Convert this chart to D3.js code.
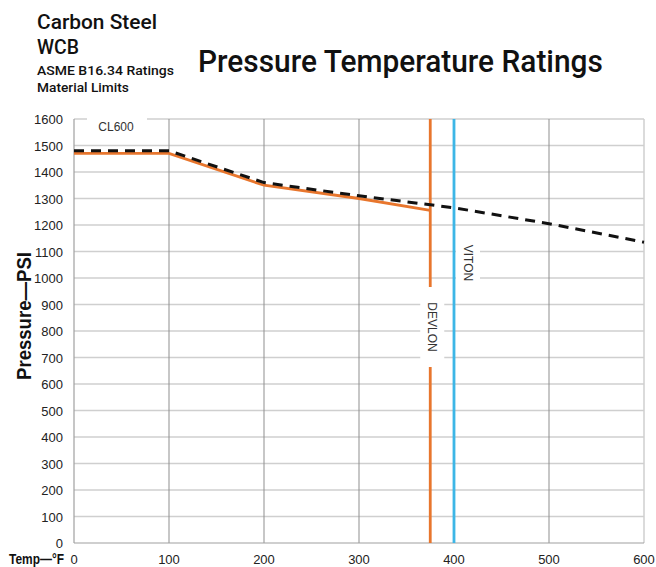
<!DOCTYPE html>
<html>
<head>
<meta charset="utf-8">
<script src="https://cdn.jsdelivr.net/npm/d3@7"></script>
<style>
  body { margin: 0; background: #fff; }
  text { font-family: "Liberation Sans", Arial, sans-serif; }
  .head { font-family: Roboto, "Liberation Sans", sans-serif; font-weight: 500; }
</style>
</head>
<body>
<svg id="chart" width="656" height="567"></svg>
<script>
// data
const ratingTemps = [0, 100, 200, 300, 400, 500, 600];
const ratingPsi = [1480, 1480, 1360, 1310, 1265, 1205, 1135];
const devlonTemps = [0, 100, 200, 300, 375];
const devlonPsi = [1470, 1470, 1350, 1300, 1255];
const limitNames = ["DEVLON", "VITON"];
const limitTemps = [375, 400];
const xTicks = [0, 100, 200, 300, 400, 500, 600];
const yTicks = d3.range(0, 1601, 100);

const ORANGE = "#e8762d";
const BLUE = "#3db6e6";

const svg = d3.select("#chart");
const pLeft = 74, pRight = 644, pTop = 119, pBottom = 543;

const x = d3.scaleLinear().domain([0, 600]).range([pLeft, pRight]);
const y = d3.scaleLinear().domain([0, 1600]).range([pBottom, pTop]);

const g = svg.append("g");

// squeeze a text horizontally to a given width
function fit_text(sel, tx, ty, width, rot = 0) {
    const w = sel.node().getComputedTextLength();
    const s = Math.min(1.2, width / w);
    sel.attr("x", 0).attr("y", 0)
        .attr("transform", `translate(${tx},${ty}) rotate(${rot}) scale(${s},1)`);
}

// horizontal grid
g.selectAll(".hgrid").data(yTicks.slice(1)).join("line")
    .attr("x1", pLeft).attr("x2", pRight)
    .attr("y1", d => y(d)).attr("y2", d => y(d))
    .attr("stroke", "#cfcfcf").attr("stroke-width", 1.3);

// vertical grid
g.selectAll(".vgrid").data(xTicks.slice(1, -1)).join("line")
    .attr("x1", d => x(d)).attr("x2", d => x(d))
    .attr("y1", pTop).attr("y2", pBottom)
    .attr("stroke", "#8f8f8f").attr("stroke-width", 1);

// right border
g.append("line")
    .attr("x1", pRight).attr("x2", pRight).attr("y1", pTop).attr("y2", pBottom)
    .attr("stroke", "#cfcfcf").attr("stroke-width", 1.5);

// axes
g.append("line").attr("x1", pLeft).attr("x2", pLeft).attr("y1", pTop).attr("y2", pBottom)
    .attr("stroke", "#a0a0a0").attr("stroke-width", 1.2);
g.append("line").attr("x1", pLeft).attr("x2", pRight).attr("y1", pBottom).attr("y2", pBottom)
    .attr("stroke", "#a0a0a0").attr("stroke-width", 1.2);

// CL600 label box
g.append("rect").attr("x", 87).attr("y", pTop - 2).attr("width", 60).attr("height", 16).attr("fill", "#fff");
g.append("text").text("CL600")
    .attr("x", 116).attr("y", 131).attr("text-anchor", "middle")
    .attr("font-size", 12).attr("fill", "#333");

// line generator
const line = d3.line().x(d => x(d[0])).y(d => y(d[1]));

// devlon curve
g.append("path")
    .attr("d", line(d3.zip(devlonTemps, devlonPsi)))
    .attr("fill", "none").attr("stroke", ORANGE).attr("stroke-width", 2.8);

// limit lines
g.selectAll(".limit").data(limitTemps).join("line")
    .attr("x1", d => x(d)).attr("x2", d => x(d))
    .attr("y1", pTop).attr("y2", pBottom)
    .attr("stroke", (d, i) => i === 0 ? ORANGE : BLUE)
    .attr("stroke-width", 2.8);

// rating curve
g.append("path")
    .attr("d", line(d3.zip(ratingTemps, ratingPsi)))
    .attr("fill", "none").attr("stroke", "#111").attr("stroke-width", 3)
    .attr("stroke-dasharray", "10,7");

// limit labels with white boxes
const labelPos = [{ dx: -10, y0: 287, y1: 367 }, { dx: 2, y0: 241, y1: 285 }];
limitNames.forEach((name, i) => {
    const p = labelPos[i];
    const cx = x(limitTemps[i]) + p.dx + 12;
    g.append("rect")
        .attr("x", cx - 12).attr("y", p.y0)
        .attr("width", 24).attr("height", p.y1 - p.y0)
        .attr("fill", "#fff");
    g.append("text").text(name)
        .attr("transform", `translate(${cx - 4},${(p.y0 + p.y1) / 2}) rotate(90)`)
        .attr("text-anchor", "middle")
        .attr("font-size", 12).attr("fill", "#333");
});

// tick labels
g.selectAll(".ylab").data(yTicks).join("text")
    .text(d => d)
    .attr("x", 63).attr("y", d => y(d) + 5)
    .attr("text-anchor", "end")
    .attr("font-size", 13).attr("fill", "#222");

g.selectAll(".xlab").data(xTicks).join("text")
    .text(d => d)
    .attr("x", d => x(d)).attr("y", 564)
    .attr("text-anchor", "middle")
    .attr("font-size", 13).attr("fill", "#222");

// axis titles
fit_text(svg.append("text").text("Temp—°F")
    .attr("font-size", 15).attr("font-weight", "bold").attr("fill", "#111"), 9, 564, 55);

fit_text(svg.append("text").text("Pressure—PSI")
    .attr("text-anchor", "middle")
    .attr("font-size", 20).attr("font-weight", "bold").attr("fill", "#111"), 31, 316, 128, -90);

// headings
const heads = [
    ["Carbon Steel", 37, 29, 21, 120],
    ["WCB", 37, 54, 21, 42],
    ["ASME B16.34 Ratings", 37, 75, 13, 137],
    ["Material Limits", 37, 92, 13, 92],
    ["Pressure Temperature Ratings", 198, 72, 32, 405]
];
heads.forEach(h => {
    fit_text(svg.append("text").attr("class", "head").text(h[0])
        .attr("font-size", h[3]).attr("fill", "#111"), h[1], h[2], h[4]);
});
</script>
</body>
</html>
